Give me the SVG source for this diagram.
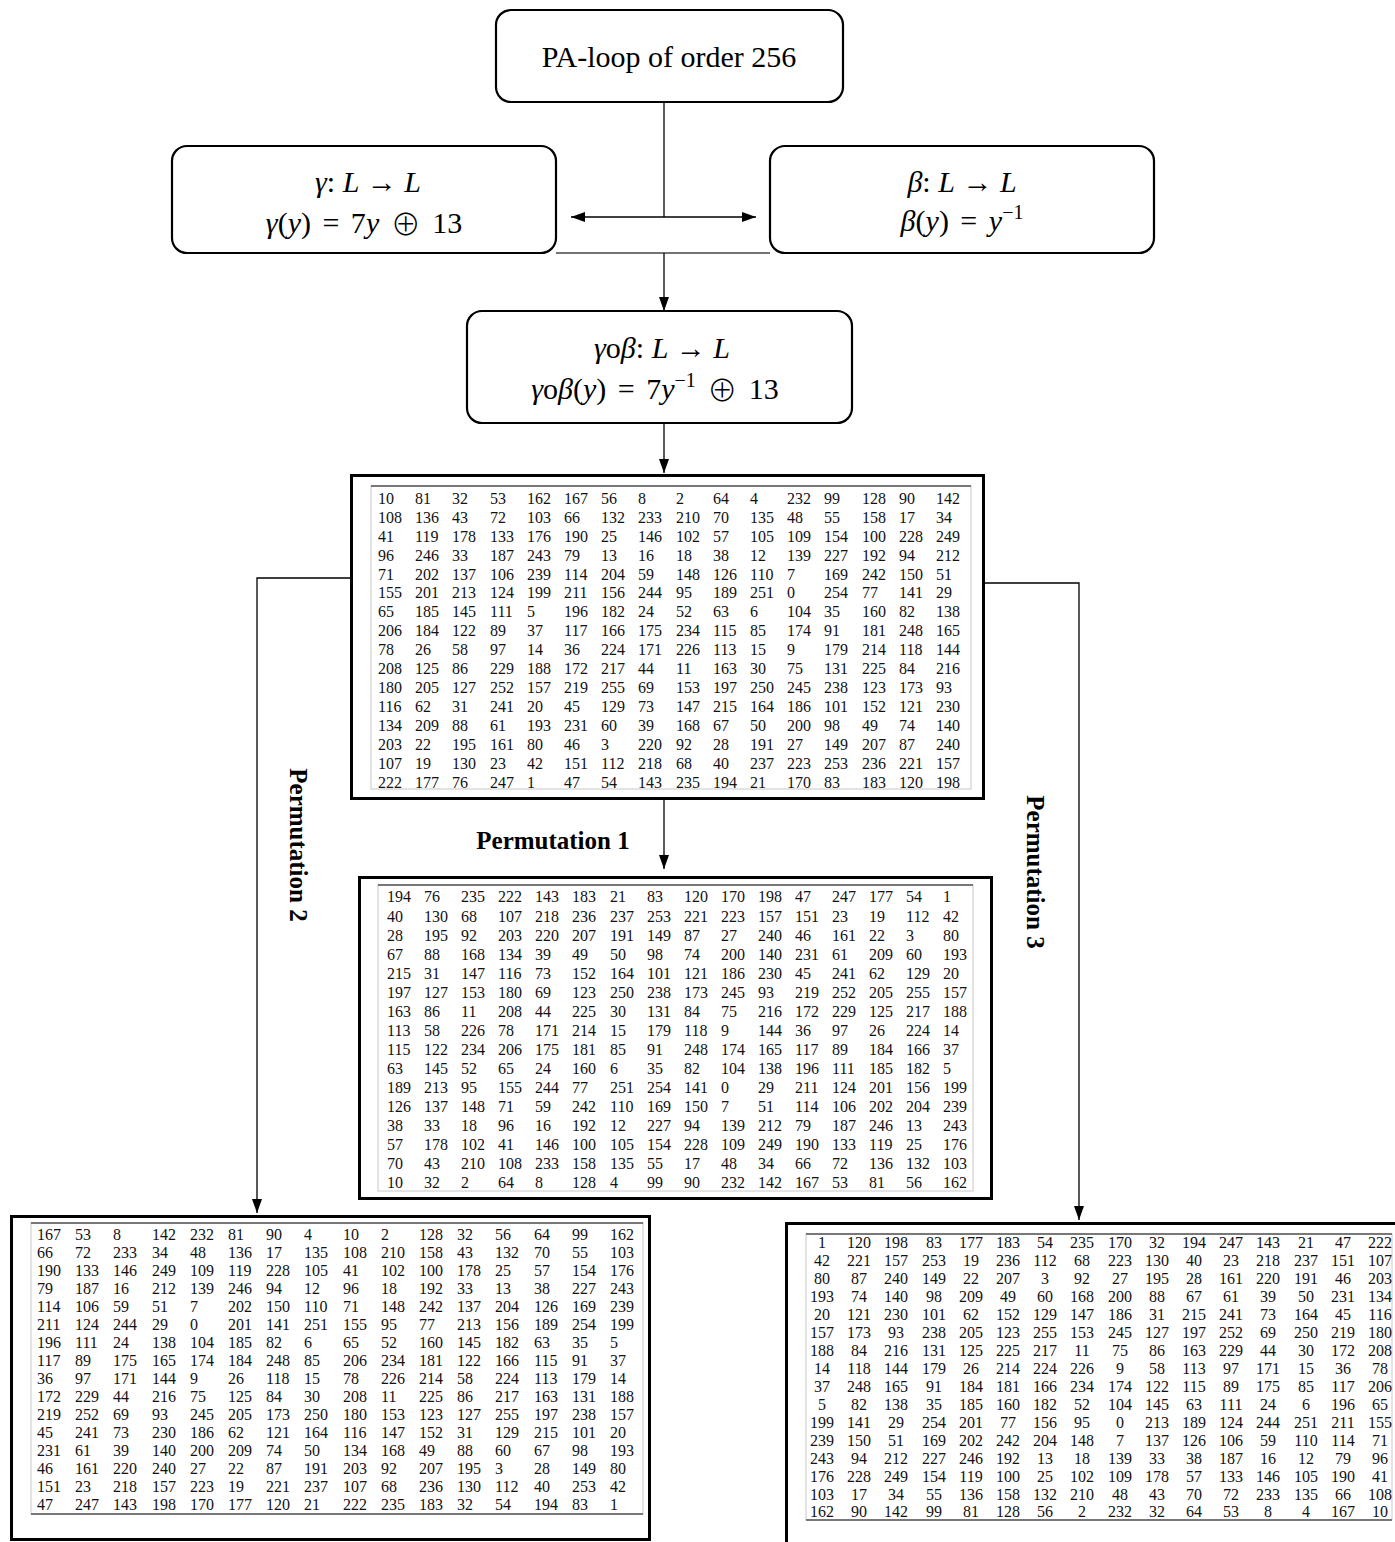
<svg xmlns="http://www.w3.org/2000/svg" width="1395" height="1542" viewBox="0 0 1395 1542">
<style>
.box{fill:#fff;stroke:#000;stroke-width:2.2}
.frame{fill:#fff;stroke:#000;stroke-width:3}
.inner{fill:none;stroke:#c8c8c8;stroke-width:1}
.rule{stroke:#555;stroke-width:1.5}
.m{font-family:"Liberation Serif","DejaVu Serif",serif;font-size:30px;fill:#000}
.ws{word-spacing:4px}
.i{font-style:italic}
.op{font-family:"DejaVu Sans ExtraLight","Noto Sans CJK SC","DejaVu Sans",sans-serif;font-weight:200;font-size:30px}
.t{font-family:"Liberation Serif","Times New Roman",serif;font-size:30px;fill:#000}
.n{font-family:"Liberation Serif","Times New Roman",serif;font-size:16px;fill:#111}
.c{text-anchor:middle}
.lab{font-family:"Liberation Serif","Times New Roman",serif;font-size:25px;font-weight:bold;fill:#000}
.ln{fill:none;stroke:#000;stroke-width:1.3}
</style>
<defs>
<marker id="ah" viewBox="0 0 14 10" refX="14" refY="5" markerWidth="14" markerHeight="10" markerUnits="userSpaceOnUse" orient="auto-start-reverse"><path d="M0,0 L14,5 L0,10 Z" fill="#000"/></marker>
</defs>
<rect width="1395" height="1542" fill="#fff"/>

<g id="connectors">
<line class="ln" x1="664" y1="102" x2="664" y2="217"/>
<line class="ln" x1="571" y1="217" x2="756" y2="217" marker-start="url(#ah)" marker-end="url(#ah)"/>
<line x1="556" y1="253" x2="770" y2="253" stroke="#444" stroke-width="1.3"/>
<line class="ln" x1="664" y1="253" x2="664" y2="311" marker-end="url(#ah)"/>
<line class="ln" x1="664" y1="423" x2="664" y2="473" marker-end="url(#ah)"/>
<line class="ln" x1="664" y1="800" x2="664" y2="869" marker-end="url(#ah)"/>
<polyline class="ln" points="350,578 257,578 257,1213" marker-end="url(#ah)"/>
<polyline class="ln" points="985,583 1079,583 1079,1220" marker-end="url(#ah)"/>
<text class="lab" x="553" y="849" text-anchor="middle">Permutation 1</text>
<text class="lab" transform="translate(298,845) rotate(90)" text-anchor="middle" dominant-baseline="central">Permutation 2</text>
<text class="lab" transform="translate(1035,872) rotate(90)" text-anchor="middle" dominant-baseline="central">Permutation 3</text>
</g>

<g id="pa-loop">
<rect class="box" x="496" y="10" width="347" height="92" rx="15"/>
<text class="t" x="669" y="67" text-anchor="middle">PA-loop of order 256</text>
</g>

<g id="gamma">
<rect class="box" x="172" y="146" width="384" height="107" rx="15"/>
<text class="m" x="368" y="192" text-anchor="middle"><tspan class="i">γ</tspan>: <tspan class="i">L</tspan> → <tspan class="i">L</tspan></text>
<text class="m ws" x="364" y="233" text-anchor="middle"><tspan class="i">γ</tspan>(<tspan class="i">y</tspan>) = 7<tspan class="i">y</tspan> <tspan class="op" dy="2">⊕</tspan><tspan dy="-2"> 13</tspan></text>
</g>

<g id="beta">
<rect class="box" x="770" y="146" width="384" height="107" rx="15"/>
<text class="m" x="962" y="192" text-anchor="middle"><tspan class="i">β</tspan>: <tspan class="i">L</tspan> → <tspan class="i">L</tspan></text>
<text class="m ws" x="962" y="231" text-anchor="middle"><tspan class="i">β</tspan>(<tspan class="i">y</tspan>) = <tspan class="i">y</tspan><tspan dy="-12" font-size="20">−1</tspan></text>
</g>

<g id="composition">
<rect class="box" x="467" y="311" width="385" height="112" rx="15"/>
<text class="m" x="662" y="358" text-anchor="middle"><tspan class="i">γ</tspan>o<tspan class="i">β</tspan>: <tspan class="i">L</tspan> → <tspan class="i">L</tspan></text>
<text class="m ws" x="655" y="399" text-anchor="middle"><tspan class="i">γ</tspan>o<tspan class="i">β</tspan>(<tspan class="i">y</tspan>) = 7<tspan class="i">y</tspan><tspan dy="-12" font-size="20">−1</tspan><tspan dy="12"> </tspan><tspan class="op" dy="2">⊕</tspan><tspan dy="-2"> 13</tspan></text>
</g>

<g id="matrix-original">
<rect class="frame" x="351.5" y="475.5" width="632" height="323"/>
<rect class="inner" x="371" y="486" width="600" height="303"/>
<line class="rule" x1="371" y1="486" x2="971" y2="486"/>
<g class="n">
<text y="504"><tspan x="378">10</tspan><tspan x="415">81</tspan><tspan x="452">32</tspan><tspan x="490">53</tspan><tspan x="527">162</tspan><tspan x="564">167</tspan><tspan x="601">56</tspan><tspan x="638">8</tspan><tspan x="676">2</tspan><tspan x="713">64</tspan><tspan x="750">4</tspan><tspan x="787">232</tspan><tspan x="824">99</tspan><tspan x="862">128</tspan><tspan x="899">90</tspan><tspan x="936">142</tspan></text>
<text y="523"><tspan x="378">108</tspan><tspan x="415">136</tspan><tspan x="452">43</tspan><tspan x="490">72</tspan><tspan x="527">103</tspan><tspan x="564">66</tspan><tspan x="601">132</tspan><tspan x="638">233</tspan><tspan x="676">210</tspan><tspan x="713">70</tspan><tspan x="750">135</tspan><tspan x="787">48</tspan><tspan x="824">55</tspan><tspan x="862">158</tspan><tspan x="899">17</tspan><tspan x="936">34</tspan></text>
<text y="542"><tspan x="378">41</tspan><tspan x="415">119</tspan><tspan x="452">178</tspan><tspan x="490">133</tspan><tspan x="527">176</tspan><tspan x="564">190</tspan><tspan x="601">25</tspan><tspan x="638">146</tspan><tspan x="676">102</tspan><tspan x="713">57</tspan><tspan x="750">105</tspan><tspan x="787">109</tspan><tspan x="824">154</tspan><tspan x="862">100</tspan><tspan x="899">228</tspan><tspan x="936">249</tspan></text>
<text y="561"><tspan x="378">96</tspan><tspan x="415">246</tspan><tspan x="452">33</tspan><tspan x="490">187</tspan><tspan x="527">243</tspan><tspan x="564">79</tspan><tspan x="601">13</tspan><tspan x="638">16</tspan><tspan x="676">18</tspan><tspan x="713">38</tspan><tspan x="750">12</tspan><tspan x="787">139</tspan><tspan x="824">227</tspan><tspan x="862">192</tspan><tspan x="899">94</tspan><tspan x="936">212</tspan></text>
<text y="580"><tspan x="378">71</tspan><tspan x="415">202</tspan><tspan x="452">137</tspan><tspan x="490">106</tspan><tspan x="527">239</tspan><tspan x="564">114</tspan><tspan x="601">204</tspan><tspan x="638">59</tspan><tspan x="676">148</tspan><tspan x="713">126</tspan><tspan x="750">110</tspan><tspan x="787">7</tspan><tspan x="824">169</tspan><tspan x="862">242</tspan><tspan x="899">150</tspan><tspan x="936">51</tspan></text>
<text y="598"><tspan x="378">155</tspan><tspan x="415">201</tspan><tspan x="452">213</tspan><tspan x="490">124</tspan><tspan x="527">199</tspan><tspan x="564">211</tspan><tspan x="601">156</tspan><tspan x="638">244</tspan><tspan x="676">95</tspan><tspan x="713">189</tspan><tspan x="750">251</tspan><tspan x="787">0</tspan><tspan x="824">254</tspan><tspan x="862">77</tspan><tspan x="899">141</tspan><tspan x="936">29</tspan></text>
<text y="617"><tspan x="378">65</tspan><tspan x="415">185</tspan><tspan x="452">145</tspan><tspan x="490">111</tspan><tspan x="527">5</tspan><tspan x="564">196</tspan><tspan x="601">182</tspan><tspan x="638">24</tspan><tspan x="676">52</tspan><tspan x="713">63</tspan><tspan x="750">6</tspan><tspan x="787">104</tspan><tspan x="824">35</tspan><tspan x="862">160</tspan><tspan x="899">82</tspan><tspan x="936">138</tspan></text>
<text y="636"><tspan x="378">206</tspan><tspan x="415">184</tspan><tspan x="452">122</tspan><tspan x="490">89</tspan><tspan x="527">37</tspan><tspan x="564">117</tspan><tspan x="601">166</tspan><tspan x="638">175</tspan><tspan x="676">234</tspan><tspan x="713">115</tspan><tspan x="750">85</tspan><tspan x="787">174</tspan><tspan x="824">91</tspan><tspan x="862">181</tspan><tspan x="899">248</tspan><tspan x="936">165</tspan></text>
<text y="655"><tspan x="378">78</tspan><tspan x="415">26</tspan><tspan x="452">58</tspan><tspan x="490">97</tspan><tspan x="527">14</tspan><tspan x="564">36</tspan><tspan x="601">224</tspan><tspan x="638">171</tspan><tspan x="676">226</tspan><tspan x="713">113</tspan><tspan x="750">15</tspan><tspan x="787">9</tspan><tspan x="824">179</tspan><tspan x="862">214</tspan><tspan x="899">118</tspan><tspan x="936">144</tspan></text>
<text y="674"><tspan x="378">208</tspan><tspan x="415">125</tspan><tspan x="452">86</tspan><tspan x="490">229</tspan><tspan x="527">188</tspan><tspan x="564">172</tspan><tspan x="601">217</tspan><tspan x="638">44</tspan><tspan x="676">11</tspan><tspan x="713">163</tspan><tspan x="750">30</tspan><tspan x="787">75</tspan><tspan x="824">131</tspan><tspan x="862">225</tspan><tspan x="899">84</tspan><tspan x="936">216</tspan></text>
<text y="693"><tspan x="378">180</tspan><tspan x="415">205</tspan><tspan x="452">127</tspan><tspan x="490">252</tspan><tspan x="527">157</tspan><tspan x="564">219</tspan><tspan x="601">255</tspan><tspan x="638">69</tspan><tspan x="676">153</tspan><tspan x="713">197</tspan><tspan x="750">250</tspan><tspan x="787">245</tspan><tspan x="824">238</tspan><tspan x="862">123</tspan><tspan x="899">173</tspan><tspan x="936">93</tspan></text>
<text y="712"><tspan x="378">116</tspan><tspan x="415">62</tspan><tspan x="452">31</tspan><tspan x="490">241</tspan><tspan x="527">20</tspan><tspan x="564">45</tspan><tspan x="601">129</tspan><tspan x="638">73</tspan><tspan x="676">147</tspan><tspan x="713">215</tspan><tspan x="750">164</tspan><tspan x="787">186</tspan><tspan x="824">101</tspan><tspan x="862">152</tspan><tspan x="899">121</tspan><tspan x="936">230</tspan></text>
<text y="731"><tspan x="378">134</tspan><tspan x="415">209</tspan><tspan x="452">88</tspan><tspan x="490">61</tspan><tspan x="527">193</tspan><tspan x="564">231</tspan><tspan x="601">60</tspan><tspan x="638">39</tspan><tspan x="676">168</tspan><tspan x="713">67</tspan><tspan x="750">50</tspan><tspan x="787">200</tspan><tspan x="824">98</tspan><tspan x="862">49</tspan><tspan x="899">74</tspan><tspan x="936">140</tspan></text>
<text y="750"><tspan x="378">203</tspan><tspan x="415">22</tspan><tspan x="452">195</tspan><tspan x="490">161</tspan><tspan x="527">80</tspan><tspan x="564">46</tspan><tspan x="601">3</tspan><tspan x="638">220</tspan><tspan x="676">92</tspan><tspan x="713">28</tspan><tspan x="750">191</tspan><tspan x="787">27</tspan><tspan x="824">149</tspan><tspan x="862">207</tspan><tspan x="899">87</tspan><tspan x="936">240</tspan></text>
<text y="769"><tspan x="378">107</tspan><tspan x="415">19</tspan><tspan x="452">130</tspan><tspan x="490">23</tspan><tspan x="527">42</tspan><tspan x="564">151</tspan><tspan x="601">112</tspan><tspan x="638">218</tspan><tspan x="676">68</tspan><tspan x="713">40</tspan><tspan x="750">237</tspan><tspan x="787">223</tspan><tspan x="824">253</tspan><tspan x="862">236</tspan><tspan x="899">221</tspan><tspan x="936">157</tspan></text>
<text y="788"><tspan x="378">222</tspan><tspan x="415">177</tspan><tspan x="452">76</tspan><tspan x="490">247</tspan><tspan x="527">1</tspan><tspan x="564">47</tspan><tspan x="601">54</tspan><tspan x="638">143</tspan><tspan x="676">235</tspan><tspan x="713">194</tspan><tspan x="750">21</tspan><tspan x="787">170</tspan><tspan x="824">83</tspan><tspan x="862">183</tspan><tspan x="899">120</tspan><tspan x="936">198</tspan></text>
</g>
</g>

<g id="matrix-perm1">
<rect class="frame" x="359.5" y="877.5" width="632" height="321"/>
<rect class="inner" x="378" y="885" width="595" height="306"/>
<line class="rule" x1="378" y1="885" x2="973" y2="885"/>
<g class="n">
<text y="902"><tspan x="387">194</tspan><tspan x="424">76</tspan><tspan x="461">235</tspan><tspan x="498">222</tspan><tspan x="535">143</tspan><tspan x="572">183</tspan><tspan x="610">21</tspan><tspan x="647">83</tspan><tspan x="684">120</tspan><tspan x="721">170</tspan><tspan x="758">198</tspan><tspan x="795">47</tspan><tspan x="832">247</tspan><tspan x="869">177</tspan><tspan x="906">54</tspan><tspan x="943">1</tspan></text>
<text y="922"><tspan x="387">40</tspan><tspan x="424">130</tspan><tspan x="461">68</tspan><tspan x="498">107</tspan><tspan x="535">218</tspan><tspan x="572">236</tspan><tspan x="610">237</tspan><tspan x="647">253</tspan><tspan x="684">221</tspan><tspan x="721">223</tspan><tspan x="758">157</tspan><tspan x="795">151</tspan><tspan x="832">23</tspan><tspan x="869">19</tspan><tspan x="906">112</tspan><tspan x="943">42</tspan></text>
<text y="941"><tspan x="387">28</tspan><tspan x="424">195</tspan><tspan x="461">92</tspan><tspan x="498">203</tspan><tspan x="535">220</tspan><tspan x="572">207</tspan><tspan x="610">191</tspan><tspan x="647">149</tspan><tspan x="684">87</tspan><tspan x="721">27</tspan><tspan x="758">240</tspan><tspan x="795">46</tspan><tspan x="832">161</tspan><tspan x="869">22</tspan><tspan x="906">3</tspan><tspan x="943">80</tspan></text>
<text y="960"><tspan x="387">67</tspan><tspan x="424">88</tspan><tspan x="461">168</tspan><tspan x="498">134</tspan><tspan x="535">39</tspan><tspan x="572">49</tspan><tspan x="610">50</tspan><tspan x="647">98</tspan><tspan x="684">74</tspan><tspan x="721">200</tspan><tspan x="758">140</tspan><tspan x="795">231</tspan><tspan x="832">61</tspan><tspan x="869">209</tspan><tspan x="906">60</tspan><tspan x="943">193</tspan></text>
<text y="979"><tspan x="387">215</tspan><tspan x="424">31</tspan><tspan x="461">147</tspan><tspan x="498">116</tspan><tspan x="535">73</tspan><tspan x="572">152</tspan><tspan x="610">164</tspan><tspan x="647">101</tspan><tspan x="684">121</tspan><tspan x="721">186</tspan><tspan x="758">230</tspan><tspan x="795">45</tspan><tspan x="832">241</tspan><tspan x="869">62</tspan><tspan x="906">129</tspan><tspan x="943">20</tspan></text>
<text y="998"><tspan x="387">197</tspan><tspan x="424">127</tspan><tspan x="461">153</tspan><tspan x="498">180</tspan><tspan x="535">69</tspan><tspan x="572">123</tspan><tspan x="610">250</tspan><tspan x="647">238</tspan><tspan x="684">173</tspan><tspan x="721">245</tspan><tspan x="758">93</tspan><tspan x="795">219</tspan><tspan x="832">252</tspan><tspan x="869">205</tspan><tspan x="906">255</tspan><tspan x="943">157</tspan></text>
<text y="1017"><tspan x="387">163</tspan><tspan x="424">86</tspan><tspan x="461">11</tspan><tspan x="498">208</tspan><tspan x="535">44</tspan><tspan x="572">225</tspan><tspan x="610">30</tspan><tspan x="647">131</tspan><tspan x="684">84</tspan><tspan x="721">75</tspan><tspan x="758">216</tspan><tspan x="795">172</tspan><tspan x="832">229</tspan><tspan x="869">125</tspan><tspan x="906">217</tspan><tspan x="943">188</tspan></text>
<text y="1036"><tspan x="387">113</tspan><tspan x="424">58</tspan><tspan x="461">226</tspan><tspan x="498">78</tspan><tspan x="535">171</tspan><tspan x="572">214</tspan><tspan x="610">15</tspan><tspan x="647">179</tspan><tspan x="684">118</tspan><tspan x="721">9</tspan><tspan x="758">144</tspan><tspan x="795">36</tspan><tspan x="832">97</tspan><tspan x="869">26</tspan><tspan x="906">224</tspan><tspan x="943">14</tspan></text>
<text y="1055"><tspan x="387">115</tspan><tspan x="424">122</tspan><tspan x="461">234</tspan><tspan x="498">206</tspan><tspan x="535">175</tspan><tspan x="572">181</tspan><tspan x="610">85</tspan><tspan x="647">91</tspan><tspan x="684">248</tspan><tspan x="721">174</tspan><tspan x="758">165</tspan><tspan x="795">117</tspan><tspan x="832">89</tspan><tspan x="869">184</tspan><tspan x="906">166</tspan><tspan x="943">37</tspan></text>
<text y="1074"><tspan x="387">63</tspan><tspan x="424">145</tspan><tspan x="461">52</tspan><tspan x="498">65</tspan><tspan x="535">24</tspan><tspan x="572">160</tspan><tspan x="610">6</tspan><tspan x="647">35</tspan><tspan x="684">82</tspan><tspan x="721">104</tspan><tspan x="758">138</tspan><tspan x="795">196</tspan><tspan x="832">111</tspan><tspan x="869">185</tspan><tspan x="906">182</tspan><tspan x="943">5</tspan></text>
<text y="1093"><tspan x="387">189</tspan><tspan x="424">213</tspan><tspan x="461">95</tspan><tspan x="498">155</tspan><tspan x="535">244</tspan><tspan x="572">77</tspan><tspan x="610">251</tspan><tspan x="647">254</tspan><tspan x="684">141</tspan><tspan x="721">0</tspan><tspan x="758">29</tspan><tspan x="795">211</tspan><tspan x="832">124</tspan><tspan x="869">201</tspan><tspan x="906">156</tspan><tspan x="943">199</tspan></text>
<text y="1112"><tspan x="387">126</tspan><tspan x="424">137</tspan><tspan x="461">148</tspan><tspan x="498">71</tspan><tspan x="535">59</tspan><tspan x="572">242</tspan><tspan x="610">110</tspan><tspan x="647">169</tspan><tspan x="684">150</tspan><tspan x="721">7</tspan><tspan x="758">51</tspan><tspan x="795">114</tspan><tspan x="832">106</tspan><tspan x="869">202</tspan><tspan x="906">204</tspan><tspan x="943">239</tspan></text>
<text y="1131"><tspan x="387">38</tspan><tspan x="424">33</tspan><tspan x="461">18</tspan><tspan x="498">96</tspan><tspan x="535">16</tspan><tspan x="572">192</tspan><tspan x="610">12</tspan><tspan x="647">227</tspan><tspan x="684">94</tspan><tspan x="721">139</tspan><tspan x="758">212</tspan><tspan x="795">79</tspan><tspan x="832">187</tspan><tspan x="869">246</tspan><tspan x="906">13</tspan><tspan x="943">243</tspan></text>
<text y="1150"><tspan x="387">57</tspan><tspan x="424">178</tspan><tspan x="461">102</tspan><tspan x="498">41</tspan><tspan x="535">146</tspan><tspan x="572">100</tspan><tspan x="610">105</tspan><tspan x="647">154</tspan><tspan x="684">228</tspan><tspan x="721">109</tspan><tspan x="758">249</tspan><tspan x="795">190</tspan><tspan x="832">133</tspan><tspan x="869">119</tspan><tspan x="906">25</tspan><tspan x="943">176</tspan></text>
<text y="1169"><tspan x="387">70</tspan><tspan x="424">43</tspan><tspan x="461">210</tspan><tspan x="498">108</tspan><tspan x="535">233</tspan><tspan x="572">158</tspan><tspan x="610">135</tspan><tspan x="647">55</tspan><tspan x="684">17</tspan><tspan x="721">48</tspan><tspan x="758">34</tspan><tspan x="795">66</tspan><tspan x="832">72</tspan><tspan x="869">136</tspan><tspan x="906">132</tspan><tspan x="943">103</tspan></text>
<text y="1188"><tspan x="387">10</tspan><tspan x="424">32</tspan><tspan x="461">2</tspan><tspan x="498">64</tspan><tspan x="535">8</tspan><tspan x="572">128</tspan><tspan x="610">4</tspan><tspan x="647">99</tspan><tspan x="684">90</tspan><tspan x="721">232</tspan><tspan x="758">142</tspan><tspan x="795">167</tspan><tspan x="832">53</tspan><tspan x="869">81</tspan><tspan x="906">56</tspan><tspan x="943">162</tspan></text>
</g>
</g>

<g id="matrix-perm2">
<rect class="frame" x="11.5" y="1216.5" width="638" height="323"/>
<rect class="inner" x="31" y="1223" width="612" height="291"/>
<line class="rule" x1="31" y1="1223" x2="643" y2="1223"/>
<line class="rule" x1="31" y1="1514" x2="643" y2="1514"/>
<g class="n">
<text y="1240"><tspan x="37">167</tspan><tspan x="75">53</tspan><tspan x="113">8</tspan><tspan x="152">142</tspan><tspan x="190">232</tspan><tspan x="228">81</tspan><tspan x="266">90</tspan><tspan x="304">4</tspan><tspan x="343">10</tspan><tspan x="381">2</tspan><tspan x="419">128</tspan><tspan x="457">32</tspan><tspan x="495">56</tspan><tspan x="534">64</tspan><tspan x="572">99</tspan><tspan x="610">162</tspan></text>
<text y="1258"><tspan x="37">66</tspan><tspan x="75">72</tspan><tspan x="113">233</tspan><tspan x="152">34</tspan><tspan x="190">48</tspan><tspan x="228">136</tspan><tspan x="266">17</tspan><tspan x="304">135</tspan><tspan x="343">108</tspan><tspan x="381">210</tspan><tspan x="419">158</tspan><tspan x="457">43</tspan><tspan x="495">132</tspan><tspan x="534">70</tspan><tspan x="572">55</tspan><tspan x="610">103</tspan></text>
<text y="1276"><tspan x="37">190</tspan><tspan x="75">133</tspan><tspan x="113">146</tspan><tspan x="152">249</tspan><tspan x="190">109</tspan><tspan x="228">119</tspan><tspan x="266">228</tspan><tspan x="304">105</tspan><tspan x="343">41</tspan><tspan x="381">102</tspan><tspan x="419">100</tspan><tspan x="457">178</tspan><tspan x="495">25</tspan><tspan x="534">57</tspan><tspan x="572">154</tspan><tspan x="610">176</tspan></text>
<text y="1294"><tspan x="37">79</tspan><tspan x="75">187</tspan><tspan x="113">16</tspan><tspan x="152">212</tspan><tspan x="190">139</tspan><tspan x="228">246</tspan><tspan x="266">94</tspan><tspan x="304">12</tspan><tspan x="343">96</tspan><tspan x="381">18</tspan><tspan x="419">192</tspan><tspan x="457">33</tspan><tspan x="495">13</tspan><tspan x="534">38</tspan><tspan x="572">227</tspan><tspan x="610">243</tspan></text>
<text y="1312"><tspan x="37">114</tspan><tspan x="75">106</tspan><tspan x="113">59</tspan><tspan x="152">51</tspan><tspan x="190">7</tspan><tspan x="228">202</tspan><tspan x="266">150</tspan><tspan x="304">110</tspan><tspan x="343">71</tspan><tspan x="381">148</tspan><tspan x="419">242</tspan><tspan x="457">137</tspan><tspan x="495">204</tspan><tspan x="534">126</tspan><tspan x="572">169</tspan><tspan x="610">239</tspan></text>
<text y="1330"><tspan x="37">211</tspan><tspan x="75">124</tspan><tspan x="113">244</tspan><tspan x="152">29</tspan><tspan x="190">0</tspan><tspan x="228">201</tspan><tspan x="266">141</tspan><tspan x="304">251</tspan><tspan x="343">155</tspan><tspan x="381">95</tspan><tspan x="419">77</tspan><tspan x="457">213</tspan><tspan x="495">156</tspan><tspan x="534">189</tspan><tspan x="572">254</tspan><tspan x="610">199</tspan></text>
<text y="1348"><tspan x="37">196</tspan><tspan x="75">111</tspan><tspan x="113">24</tspan><tspan x="152">138</tspan><tspan x="190">104</tspan><tspan x="228">185</tspan><tspan x="266">82</tspan><tspan x="304">6</tspan><tspan x="343">65</tspan><tspan x="381">52</tspan><tspan x="419">160</tspan><tspan x="457">145</tspan><tspan x="495">182</tspan><tspan x="534">63</tspan><tspan x="572">35</tspan><tspan x="610">5</tspan></text>
<text y="1366"><tspan x="37">117</tspan><tspan x="75">89</tspan><tspan x="113">175</tspan><tspan x="152">165</tspan><tspan x="190">174</tspan><tspan x="228">184</tspan><tspan x="266">248</tspan><tspan x="304">85</tspan><tspan x="343">206</tspan><tspan x="381">234</tspan><tspan x="419">181</tspan><tspan x="457">122</tspan><tspan x="495">166</tspan><tspan x="534">115</tspan><tspan x="572">91</tspan><tspan x="610">37</tspan></text>
<text y="1384"><tspan x="37">36</tspan><tspan x="75">97</tspan><tspan x="113">171</tspan><tspan x="152">144</tspan><tspan x="190">9</tspan><tspan x="228">26</tspan><tspan x="266">118</tspan><tspan x="304">15</tspan><tspan x="343">78</tspan><tspan x="381">226</tspan><tspan x="419">214</tspan><tspan x="457">58</tspan><tspan x="495">224</tspan><tspan x="534">113</tspan><tspan x="572">179</tspan><tspan x="610">14</tspan></text>
<text y="1402"><tspan x="37">172</tspan><tspan x="75">229</tspan><tspan x="113">44</tspan><tspan x="152">216</tspan><tspan x="190">75</tspan><tspan x="228">125</tspan><tspan x="266">84</tspan><tspan x="304">30</tspan><tspan x="343">208</tspan><tspan x="381">11</tspan><tspan x="419">225</tspan><tspan x="457">86</tspan><tspan x="495">217</tspan><tspan x="534">163</tspan><tspan x="572">131</tspan><tspan x="610">188</tspan></text>
<text y="1420"><tspan x="37">219</tspan><tspan x="75">252</tspan><tspan x="113">69</tspan><tspan x="152">93</tspan><tspan x="190">245</tspan><tspan x="228">205</tspan><tspan x="266">173</tspan><tspan x="304">250</tspan><tspan x="343">180</tspan><tspan x="381">153</tspan><tspan x="419">123</tspan><tspan x="457">127</tspan><tspan x="495">255</tspan><tspan x="534">197</tspan><tspan x="572">238</tspan><tspan x="610">157</tspan></text>
<text y="1438"><tspan x="37">45</tspan><tspan x="75">241</tspan><tspan x="113">73</tspan><tspan x="152">230</tspan><tspan x="190">186</tspan><tspan x="228">62</tspan><tspan x="266">121</tspan><tspan x="304">164</tspan><tspan x="343">116</tspan><tspan x="381">147</tspan><tspan x="419">152</tspan><tspan x="457">31</tspan><tspan x="495">129</tspan><tspan x="534">215</tspan><tspan x="572">101</tspan><tspan x="610">20</tspan></text>
<text y="1456"><tspan x="37">231</tspan><tspan x="75">61</tspan><tspan x="113">39</tspan><tspan x="152">140</tspan><tspan x="190">200</tspan><tspan x="228">209</tspan><tspan x="266">74</tspan><tspan x="304">50</tspan><tspan x="343">134</tspan><tspan x="381">168</tspan><tspan x="419">49</tspan><tspan x="457">88</tspan><tspan x="495">60</tspan><tspan x="534">67</tspan><tspan x="572">98</tspan><tspan x="610">193</tspan></text>
<text y="1474"><tspan x="37">46</tspan><tspan x="75">161</tspan><tspan x="113">220</tspan><tspan x="152">240</tspan><tspan x="190">27</tspan><tspan x="228">22</tspan><tspan x="266">87</tspan><tspan x="304">191</tspan><tspan x="343">203</tspan><tspan x="381">92</tspan><tspan x="419">207</tspan><tspan x="457">195</tspan><tspan x="495">3</tspan><tspan x="534">28</tspan><tspan x="572">149</tspan><tspan x="610">80</tspan></text>
<text y="1492"><tspan x="37">151</tspan><tspan x="75">23</tspan><tspan x="113">218</tspan><tspan x="152">157</tspan><tspan x="190">223</tspan><tspan x="228">19</tspan><tspan x="266">221</tspan><tspan x="304">237</tspan><tspan x="343">107</tspan><tspan x="381">68</tspan><tspan x="419">236</tspan><tspan x="457">130</tspan><tspan x="495">112</tspan><tspan x="534">40</tspan><tspan x="572">253</tspan><tspan x="610">42</tspan></text>
<text y="1510"><tspan x="37">47</tspan><tspan x="75">247</tspan><tspan x="113">143</tspan><tspan x="152">198</tspan><tspan x="190">170</tspan><tspan x="228">177</tspan><tspan x="266">120</tspan><tspan x="304">21</tspan><tspan x="343">222</tspan><tspan x="381">235</tspan><tspan x="419">183</tspan><tspan x="457">32</tspan><tspan x="495">54</tspan><tspan x="534">194</tspan><tspan x="572">83</tspan><tspan x="610">1</tspan></text>
</g>
</g>

<g id="matrix-perm3">
<rect class="frame" x="786.5" y="1223.5" width="700" height="400"/>
<rect class="inner" x="806" y="1234" width="586" height="286"/>
<line class="rule" x1="806" y1="1234" x2="1392" y2="1234"/>
<line class="rule" x1="806" y1="1520" x2="1392" y2="1520"/>
<g class="n c">
<text y="1248"><tspan x="822">1</tspan><tspan x="859">120</tspan><tspan x="896">198</tspan><tspan x="934">83</tspan><tspan x="971">177</tspan><tspan x="1008">183</tspan><tspan x="1045">54</tspan><tspan x="1082">235</tspan><tspan x="1120">170</tspan><tspan x="1157">32</tspan><tspan x="1194">194</tspan><tspan x="1231">247</tspan><tspan x="1268">143</tspan><tspan x="1306">21</tspan><tspan x="1343">47</tspan><tspan x="1380">222</tspan></text>
<text y="1266"><tspan x="822">42</tspan><tspan x="859">221</tspan><tspan x="896">157</tspan><tspan x="934">253</tspan><tspan x="971">19</tspan><tspan x="1008">236</tspan><tspan x="1045">112</tspan><tspan x="1082">68</tspan><tspan x="1120">223</tspan><tspan x="1157">130</tspan><tspan x="1194">40</tspan><tspan x="1231">23</tspan><tspan x="1268">218</tspan><tspan x="1306">237</tspan><tspan x="1343">151</tspan><tspan x="1380">107</tspan></text>
<text y="1284"><tspan x="822">80</tspan><tspan x="859">87</tspan><tspan x="896">240</tspan><tspan x="934">149</tspan><tspan x="971">22</tspan><tspan x="1008">207</tspan><tspan x="1045">3</tspan><tspan x="1082">92</tspan><tspan x="1120">27</tspan><tspan x="1157">195</tspan><tspan x="1194">28</tspan><tspan x="1231">161</tspan><tspan x="1268">220</tspan><tspan x="1306">191</tspan><tspan x="1343">46</tspan><tspan x="1380">203</tspan></text>
<text y="1302"><tspan x="822">193</tspan><tspan x="859">74</tspan><tspan x="896">140</tspan><tspan x="934">98</tspan><tspan x="971">209</tspan><tspan x="1008">49</tspan><tspan x="1045">60</tspan><tspan x="1082">168</tspan><tspan x="1120">200</tspan><tspan x="1157">88</tspan><tspan x="1194">67</tspan><tspan x="1231">61</tspan><tspan x="1268">39</tspan><tspan x="1306">50</tspan><tspan x="1343">231</tspan><tspan x="1380">134</tspan></text>
<text y="1320"><tspan x="822">20</tspan><tspan x="859">121</tspan><tspan x="896">230</tspan><tspan x="934">101</tspan><tspan x="971">62</tspan><tspan x="1008">152</tspan><tspan x="1045">129</tspan><tspan x="1082">147</tspan><tspan x="1120">186</tspan><tspan x="1157">31</tspan><tspan x="1194">215</tspan><tspan x="1231">241</tspan><tspan x="1268">73</tspan><tspan x="1306">164</tspan><tspan x="1343">45</tspan><tspan x="1380">116</tspan></text>
<text y="1338"><tspan x="822">157</tspan><tspan x="859">173</tspan><tspan x="896">93</tspan><tspan x="934">238</tspan><tspan x="971">205</tspan><tspan x="1008">123</tspan><tspan x="1045">255</tspan><tspan x="1082">153</tspan><tspan x="1120">245</tspan><tspan x="1157">127</tspan><tspan x="1194">197</tspan><tspan x="1231">252</tspan><tspan x="1268">69</tspan><tspan x="1306">250</tspan><tspan x="1343">219</tspan><tspan x="1380">180</tspan></text>
<text y="1356"><tspan x="822">188</tspan><tspan x="859">84</tspan><tspan x="896">216</tspan><tspan x="934">131</tspan><tspan x="971">125</tspan><tspan x="1008">225</tspan><tspan x="1045">217</tspan><tspan x="1082">11</tspan><tspan x="1120">75</tspan><tspan x="1157">86</tspan><tspan x="1194">163</tspan><tspan x="1231">229</tspan><tspan x="1268">44</tspan><tspan x="1306">30</tspan><tspan x="1343">172</tspan><tspan x="1380">208</tspan></text>
<text y="1374"><tspan x="822">14</tspan><tspan x="859">118</tspan><tspan x="896">144</tspan><tspan x="934">179</tspan><tspan x="971">26</tspan><tspan x="1008">214</tspan><tspan x="1045">224</tspan><tspan x="1082">226</tspan><tspan x="1120">9</tspan><tspan x="1157">58</tspan><tspan x="1194">113</tspan><tspan x="1231">97</tspan><tspan x="1268">171</tspan><tspan x="1306">15</tspan><tspan x="1343">36</tspan><tspan x="1380">78</tspan></text>
<text y="1392"><tspan x="822">37</tspan><tspan x="859">248</tspan><tspan x="896">165</tspan><tspan x="934">91</tspan><tspan x="971">184</tspan><tspan x="1008">181</tspan><tspan x="1045">166</tspan><tspan x="1082">234</tspan><tspan x="1120">174</tspan><tspan x="1157">122</tspan><tspan x="1194">115</tspan><tspan x="1231">89</tspan><tspan x="1268">175</tspan><tspan x="1306">85</tspan><tspan x="1343">117</tspan><tspan x="1380">206</tspan></text>
<text y="1410"><tspan x="822">5</tspan><tspan x="859">82</tspan><tspan x="896">138</tspan><tspan x="934">35</tspan><tspan x="971">185</tspan><tspan x="1008">160</tspan><tspan x="1045">182</tspan><tspan x="1082">52</tspan><tspan x="1120">104</tspan><tspan x="1157">145</tspan><tspan x="1194">63</tspan><tspan x="1231">111</tspan><tspan x="1268">24</tspan><tspan x="1306">6</tspan><tspan x="1343">196</tspan><tspan x="1380">65</tspan></text>
<text y="1428"><tspan x="822">199</tspan><tspan x="859">141</tspan><tspan x="896">29</tspan><tspan x="934">254</tspan><tspan x="971">201</tspan><tspan x="1008">77</tspan><tspan x="1045">156</tspan><tspan x="1082">95</tspan><tspan x="1120">0</tspan><tspan x="1157">213</tspan><tspan x="1194">189</tspan><tspan x="1231">124</tspan><tspan x="1268">244</tspan><tspan x="1306">251</tspan><tspan x="1343">211</tspan><tspan x="1380">155</tspan></text>
<text y="1446"><tspan x="822">239</tspan><tspan x="859">150</tspan><tspan x="896">51</tspan><tspan x="934">169</tspan><tspan x="971">202</tspan><tspan x="1008">242</tspan><tspan x="1045">204</tspan><tspan x="1082">148</tspan><tspan x="1120">7</tspan><tspan x="1157">137</tspan><tspan x="1194">126</tspan><tspan x="1231">106</tspan><tspan x="1268">59</tspan><tspan x="1306">110</tspan><tspan x="1343">114</tspan><tspan x="1380">71</tspan></text>
<text y="1464"><tspan x="822">243</tspan><tspan x="859">94</tspan><tspan x="896">212</tspan><tspan x="934">227</tspan><tspan x="971">246</tspan><tspan x="1008">192</tspan><tspan x="1045">13</tspan><tspan x="1082">18</tspan><tspan x="1120">139</tspan><tspan x="1157">33</tspan><tspan x="1194">38</tspan><tspan x="1231">187</tspan><tspan x="1268">16</tspan><tspan x="1306">12</tspan><tspan x="1343">79</tspan><tspan x="1380">96</tspan></text>
<text y="1482"><tspan x="822">176</tspan><tspan x="859">228</tspan><tspan x="896">249</tspan><tspan x="934">154</tspan><tspan x="971">119</tspan><tspan x="1008">100</tspan><tspan x="1045">25</tspan><tspan x="1082">102</tspan><tspan x="1120">109</tspan><tspan x="1157">178</tspan><tspan x="1194">57</tspan><tspan x="1231">133</tspan><tspan x="1268">146</tspan><tspan x="1306">105</tspan><tspan x="1343">190</tspan><tspan x="1380">41</tspan></text>
<text y="1500"><tspan x="822">103</tspan><tspan x="859">17</tspan><tspan x="896">34</tspan><tspan x="934">55</tspan><tspan x="971">136</tspan><tspan x="1008">158</tspan><tspan x="1045">132</tspan><tspan x="1082">210</tspan><tspan x="1120">48</tspan><tspan x="1157">43</tspan><tspan x="1194">70</tspan><tspan x="1231">72</tspan><tspan x="1268">233</tspan><tspan x="1306">135</tspan><tspan x="1343">66</tspan><tspan x="1380">108</tspan></text>
<text y="1517"><tspan x="822">162</tspan><tspan x="859">90</tspan><tspan x="896">142</tspan><tspan x="934">99</tspan><tspan x="971">81</tspan><tspan x="1008">128</tspan><tspan x="1045">56</tspan><tspan x="1082">2</tspan><tspan x="1120">232</tspan><tspan x="1157">32</tspan><tspan x="1194">64</tspan><tspan x="1231">53</tspan><tspan x="1268">8</tspan><tspan x="1306">4</tspan><tspan x="1343">167</tspan><tspan x="1380">10</tspan></text>
</g>
</g>
</svg>
